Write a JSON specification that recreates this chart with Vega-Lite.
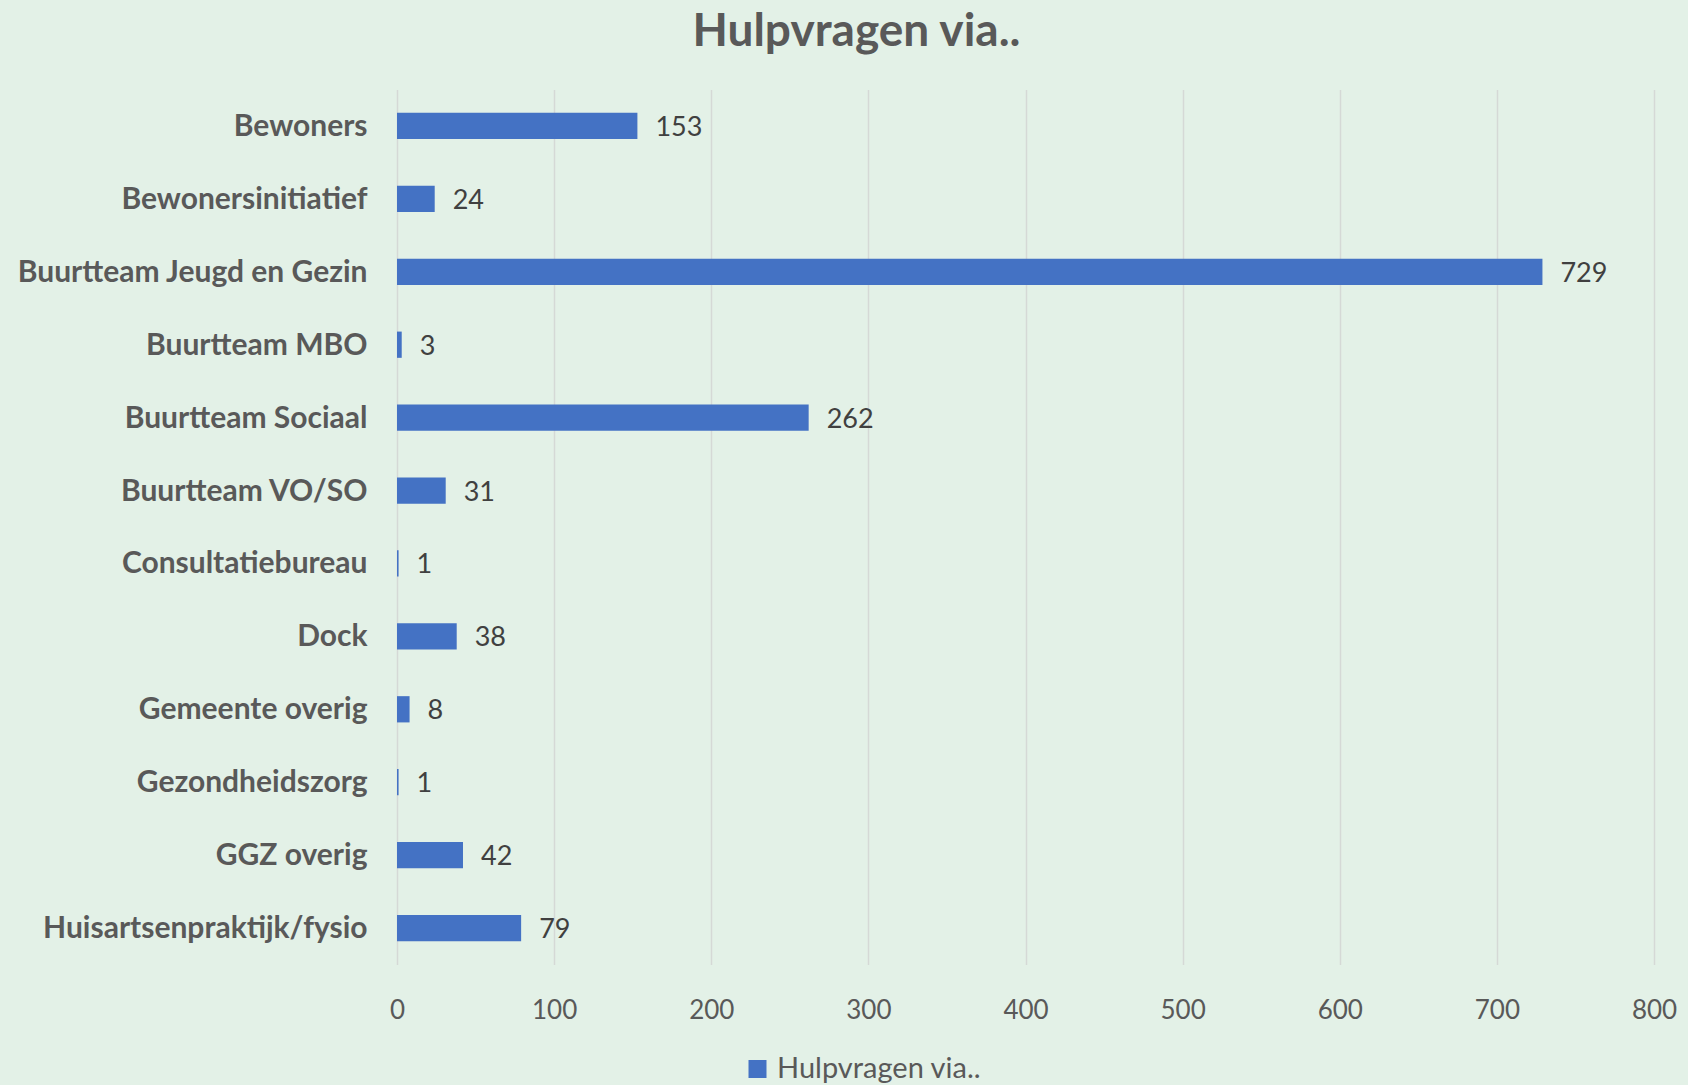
{
  "$schema": "https://vega.github.io/schema/vega-lite/v6.json",
  "width": 1257,
  "height": 875,
  "autosize": {"type": "none"},
  "padding": {"left": 397, "top": 89.5, "right": 34, "bottom": 120.5},
  "background": "#E3F1E7",
  "config": {"view": {"stroke": null}, "font": "Lato"},
  "title": {
    "text": "Hulpvragen via..",
    "anchor": "middle",
    "dx": -169,
    "offset": 34,
    "font": "Lato",
    "fontSize": 46,
    "fontWeight": "bold",
    "color": "#595959"
  },
  "data": {
    "values": [
      {"bron": "Bewoners", "aantal": 153, "reeks": "Hulpvragen via.."},
      {"bron": "Bewonersinitiatief", "aantal": 24, "reeks": "Hulpvragen via.."},
      {"bron": "Buurtteam Jeugd en Gezin", "aantal": 729, "reeks": "Hulpvragen via.."},
      {"bron": "Buurtteam MBO", "aantal": 3, "reeks": "Hulpvragen via.."},
      {"bron": "Buurtteam Sociaal", "aantal": 262, "reeks": "Hulpvragen via.."},
      {"bron": "Buurtteam VO/SO", "aantal": 31, "reeks": "Hulpvragen via.."},
      {"bron": "Consultatiebureau", "aantal": 1, "reeks": "Hulpvragen via.."},
      {"bron": "Dock", "aantal": 38, "reeks": "Hulpvragen via.."},
      {"bron": "Gemeente overig", "aantal": 8, "reeks": "Hulpvragen via.."},
      {"bron": "Gezondheidszorg", "aantal": 1, "reeks": "Hulpvragen via.."},
      {"bron": "GGZ overig", "aantal": 42, "reeks": "Hulpvragen via.."},
      {"bron": "Huisartsenpraktijk/fysio", "aantal": 79, "reeks": "Hulpvragen via.."}
    ]
  },
  "encoding": {
    "y": {
      "field": "bron",
      "type": "nominal",
      "sort": null,
      "scale": {"paddingInner": 0.64, "paddingOuter": 0.32},
      "axis": {
        "title": null,
        "domain": false,
        "ticks": false,
        "labelPadding": 30,
        "labelFont": "Lato",
        "labelFontSize": 30,
        "labelFontWeight": "bold",
        "labelColor": "#595959",
        "labelLimit": 500,
        "labelOffset": 1
      }
    },
    "x": {
      "field": "aantal",
      "type": "quantitative",
      "scale": {"domain": [0, 800], "nice": false},
      "axis": {
        "title": null,
        "domain": false,
        "ticks": false,
        "values": [0, 100, 200, 300, 400, 500, 600, 700, 800],
        "grid": true,
        "gridColor": "#D5D9D6",
        "gridWidth": 1.5,
        "labelPadding": 33,
        "labelFont": "Lato",
        "labelFontSize": 26,
        "labelColor": "#595959",
        "labelFlush": false
      }
    }
  },
  "layer": [
    {
      "mark": {"type": "bar", "color": "#4472C4"},
      "encoding": {
        "color": {
          "field": "reeks",
          "type": "nominal",
          "scale": {"range": ["#4472C4"]},
          "legend": {
            "title": null,
            "orient": "none",
            "legendX": 346,
            "legendY": 965,
            "padding": 0,
            "symbolType": "square",
            "symbolSize": 324,
            "symbolStrokeWidth": 0,
            "labelFont": "Lato",
            "labelFontSize": 29,
            "labelColor": "#595959",
            "labelOffset": 5,
            "labelLimit": 400
          }
        }
      }
    },
    {
      "mark": {"type": "text", "align": "left", "baseline": "middle", "dx": 18, "dy": 2, "font": "Lato", "fontSize": 27, "color": "#404040"},
      "encoding": {"text": {"field": "aantal", "type": "quantitative"}}
    }
  ]
}
